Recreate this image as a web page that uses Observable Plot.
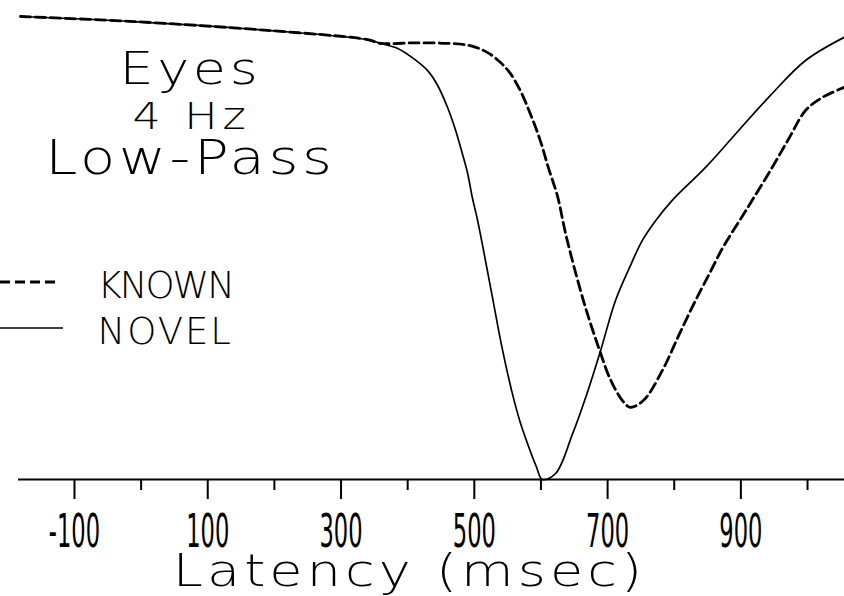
<!DOCTYPE html>
<html>
<head>
<meta charset="utf-8">
<script src="https://cdn.jsdelivr.net/npm/d3@7"></script>
<script src="https://cdn.jsdelivr.net/npm/@observablehq/plot@0.6"></script>
<style>
  html, body { margin: 0; padding: 0; background: #fff; }
  #chart { width: 844px; height: 596px; overflow: hidden; }
</style>
</head>
<body>
<div id="chart"></div>
<script>
// Latency (msec) and relative amplitude for each condition
const novelMs  = [-181, -11, 190, 340, 359, 385, 409, 430, 445, 460, 472, 482, 490, 497, 505, 527, 541, 556, 569, 581, 593, 602, 622, 647, 668, 689, 712, 733, 752, 772, 797, 847, 898, 944, 997, 1055];
const novelAmp = [100, 98.9, 97.0, 95.0, 94.2, 93.1, 90.9, 88.3, 85.1, 80.3, 75.4, 70.4, 66.1, 60.9, 55.9, 39.5, 28.9, 19.2, 12.3, 7.3, 2.8, 0, 1.3, 9.7, 18.1, 27.6, 38.7, 45.8, 51.6, 55.9, 60.3, 67.4, 75.6, 82.9, 90.5, 95.5];

const knownMs  = [-181, -11, 190, 340, 359, 409, 460, 494, 520, 539, 554, 569, 584, 599, 611, 625, 637, 658, 673, 688, 703, 722, 734, 754, 782, 808, 832, 853, 873, 898, 917, 947, 973, 997, 1022, 1055];
const knownAmp = [100, 98.9, 97.0, 95.0, 94.2, 94.3, 94.2, 93.7, 92.2, 90.1, 87.7, 84.0, 79.0, 73.2, 67.4, 61.1, 53.1, 41.5, 34.3, 27.9, 22.0, 17.1, 15.6, 17.1, 23.5, 31.5, 38.7, 44.5, 50.1, 55.9, 60.3, 67.4, 73.9, 79.7, 82.5, 84.7];

const majorTicks = [-100, 100, 300, 500, 700, 900];
const minorTicks = [0, 200, 400, 600, 800, 1000];
const titleLines = ["Eyes", "4 Hz", "Low-Pass"];
const legendLabels = ["KNOWN", "NOVEL"];
const xLabel = "Latency (msec)";

const novel = novelMs.map((x, i) => ({x, y: novelAmp[i]}));
const known = knownMs.map((x, i) => ({x, y: knownAmp[i]}));

const thin = "'DejaVu Sans', sans-serif";

const chart = Plot.plot({
  width: 844,
  height: 596,
  marginLeft: 0,
  marginRight: 0,
  marginTop: 16,
  marginBottom: 117,
  style: {background: "#fff", color: "#000"},
  x: {domain: [-211, 1055.5], axis: null},
  y: {domain: [0, 100], axis: null},
  marks: [
    Plot.ruleY([0], {x1: -184, x2: 1055.5, stroke: "#000", strokeWidth: 2}),
    Plot.axisX({ticks: majorTicks, tickSize: 20, tickFormat: () => "", label: null, strokeWidth: 2}),
    Plot.axisX({ticks: minorTicks, tickSize: 11, tickFormat: () => "", label: null, strokeWidth: 2}),
    Plot.text(majorTicks, {x: d => d, text: d => String(d), frameAnchor: "bottom", dy: 67, lineAnchor: "bottom",
      fontSize: 47, fontFamily: "'DejaVu Sans', sans-serif", fill: "#000", textAnchor: "middle"}),
    Plot.text([xLabel], {frameAnchor: "bottom", dx: -13, dy: 106, lineAnchor: "bottom", fontSize: 45,
      fontFamily: thin, fontWeight: 200, fill: "#000", textAnchor: "middle"}),
    Plot.line(novel, {x: "x", y: "y", curve: "catmull-rom", stroke: "#000", strokeWidth: 1.7}),
    Plot.line(known, {x: "x", y: "y", curve: "catmull-rom", stroke: "#000", strokeWidth: 2.8, strokeDasharray: "10,5"}),
    Plot.text([titleLines[0]], {frameAnchor: "top-left", dx: 190, dy: 67, lineAnchor: "bottom", textAnchor: "middle",
      fontSize: 45, fontFamily: thin, fontWeight: 200, fill: "#000"}),
    Plot.text([titleLines[1]], {frameAnchor: "top-left", dx: 191, dy: 112, lineAnchor: "bottom", textAnchor: "middle",
      fontSize: 37, fontFamily: thin, fontWeight: 200, fill: "#000"}),
    Plot.text([titleLines[2]], {frameAnchor: "top-left", dx: 190, dy: 157, lineAnchor: "bottom", textAnchor: "middle",
      fontSize: 48, fontFamily: thin, fontWeight: 200, fill: "#000"}),
    Plot.text([legendLabels[0]], {frameAnchor: "top-left", dx: 97, dy: 281, lineAnchor: "bottom", textAnchor: "start",
      fontSize: 37, fontFamily: thin, fontWeight: 200, fill: "#000"}),
    Plot.text([legendLabels[1]], {frameAnchor: "top-left", dx: 97, dy: 327, lineAnchor: "bottom", textAnchor: "start",
      fontSize: 37, fontFamily: thin, fontWeight: 200, fill: "#000"})
  ]
});

document.getElementById("chart").appendChild(chart);
const svg = d3.select(chart);

function stretch(el, sx) {
  const tr = el.getAttribute("transform") || "";
  const x = +el.getAttribute("x") || 0, y = +el.getAttribute("y") || 0;
  el.removeAttribute("x"); el.removeAttribute("y");
  el.setAttribute("transform", `${tr} translate(${x},${y}) scale(${sx},1)`);
}

// plotter-style lettering: wide glyphs with a little tracking
svg.selectAll("text").each(function () {
  const t = this.textContent;
  if (t === "Eyes" || t === "Low-Pass") { this.style.letterSpacing = "3px"; stretch(this, 1.2); }
  if (t === "4 Hz") { this.style.letterSpacing = "4px"; stretch(this, 1.2); }
  if (t === xLabel) { this.style.letterSpacing = "3.4px"; stretch(this, 1.2); }
  if (t === "KNOWN") this.style.letterSpacing = "-2px";
  if (t === "NOVEL") this.style.letterSpacing = "2px";
  // condensed numerals for tick labels
  if (/^[-\u2212]?\d+$/.test(t)) stretch(this, 0.48);
});

// legend line samples
svg.append("line").attr("x1", 0).attr("x2", 58).attr("y1", 282).attr("y2", 282)
  .attr("stroke", "#000").attr("stroke-width", 2.8).attr("stroke-dasharray", "10,5");
svg.append("line").attr("x1", 0).attr("x2", 63).attr("y1", 328).attr("y2", 328)
  .attr("stroke", "#000").attr("stroke-width", 1.7);
</script>
</body>
</html>
